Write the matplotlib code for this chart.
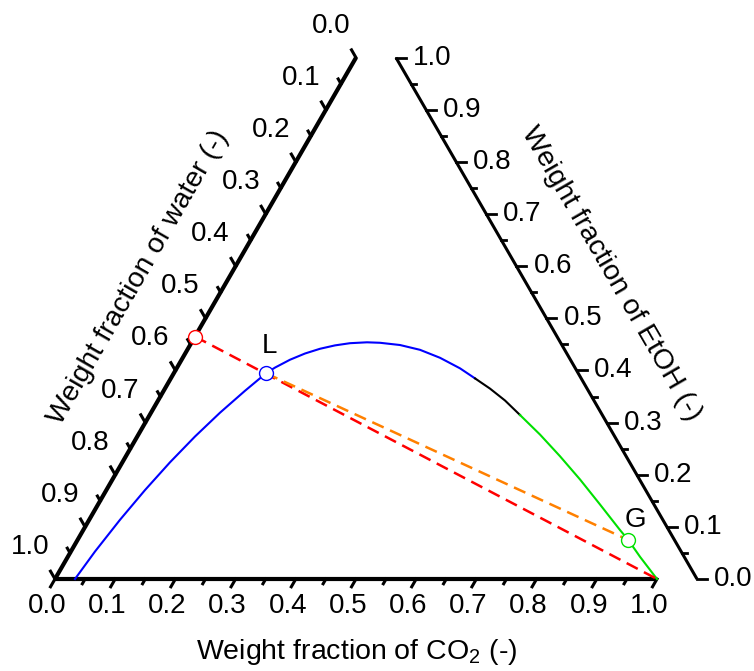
import numpy as np
import matplotlib
matplotlib.use("Agg")
import matplotlib.pyplot as plt

plt.rcParams['font.family'] = ['Liberation Sans', 'DejaVu Sans']

# ----- data (weight fractions) -----
# binodal curve, blue part (water-rich side)
blue_co2 = [0.0332, 0.0401, 0.0512, 0.0642, 0.0791, 0.0959, 0.1146, 0.1351,
            0.1532, 0.1627, 0.1801, 0.1990, 0.2194, 0.2411, 0.2639, 0.2913,
            0.3133, 0.3487, 0.3865, 0.4274, 0.4707, 0.5053]
blue_etoh = [0.0000, 0.0528, 0.1136, 0.1705, 0.2238, 0.2733, 0.3190, 0.3610,
             0.3946, 0.4055, 0.4206, 0.4325, 0.4416, 0.4481, 0.4523, 0.4540,
             0.4531, 0.4488, 0.4396, 0.4243, 0.4041, 0.3848]
# black part (near plait point)
black_co2 = [0.5053, 0.5400, 0.5763, 0.6151]
black_etoh = [0.3848, 0.3652, 0.3424, 0.3146]
# green part (CO2-rich side)
green_co2 = [0.6151, 0.6672, 0.7211, 0.7767, 0.8339, 0.8915, 0.9149, 0.9505, 1.0000]
green_etoh = [0.3146, 0.2770, 0.2355, 0.1909, 0.1429, 0.0940, 0.0748, 0.0426, 0.0000]

# feed line (red) and tie line L-G (orange)
feed_co2 = [0.0, 1.0]
feed_etoh = [0.465, 0.0]
tie_co2 = [0.1532, 0.9149]
tie_etoh = [0.3946, 0.0748]

major_ticks = [0.0, 0.1, 0.2, 0.3, 0.4, 0.5, 0.6, 0.7, 0.8, 0.9, 1.0]
minor_ticks = [0.05, 0.15, 0.25, 0.35, 0.45, 0.55, 0.65, 0.75, 0.85, 0.95]
tick_labels = ['0.0', '0.1', '0.2', '0.3', '0.4', '0.5', '0.6', '0.7', '0.8', '0.9', '1.0']

S3 = np.sqrt(3) / 2
PX = 1 / 602.0      # one pixel in data units
OFF = 40 * PX       # shift of the EtOH axis


def tern(co2, etoh):
    co2 = np.asarray(co2, dtype=float)
    etoh = np.asarray(etoh, dtype=float)
    return co2 + etoh / 2, etoh * S3


fig = plt.figure(figsize=(7.54, 6.71), dpi=100)
ax = fig.add_axes([0, 0, 1, 1])
ax.set_xlim(-55 * PX, 699 * PX)
ax.set_ylim(-92 * PX, 579 * PX)
ax.axis('off')

# -----axes lines-----
ax.plot([0, 1], [0, 0], color='k', lw=3.0, solid_capstyle='butt', zorder=3)
ax.plot([0, 0.5], [0, S3], color='k', lw=3.0, solid_capstyle='butt', zorder=3)
ax.plot([1 + OFF, 0.5 + OFF], [0, S3], color='k', lw=2.2, solid_capstyle='butt', zorder=3)

fs = 20
for ticks, big in [(major_ticks, True), (minor_ticks, False)]:
    for t in ticks:
        ln = (9 if big else 5.5) * PX
        # bottom (CO2)
        ax.plot([t, t - 0.5 * ln], [0, -S3 * ln], color='k', lw=2.2, zorder=3)
        # left (water)
        px_, py_ = (1 - t) / 2, (1 - t) * S3
        ax.plot([px_, px_ - 0.5 * ln], [py_, py_ + S3 * ln], color='k', lw=2.2, zorder=3)
        # right (EtOH)
        rx, ry = 1 - t / 2 + OFF, t * S3
        ln_r = (10 if big else 5) * PX
        ax.plot([rx, rx + ln_r], [ry, ry], color='k', lw=2.0, zorder=3)

for t, lab in zip(major_ticks, tick_labels):
    ax.text(t - 8 * PX, -27 * PX, lab, fontsize=fs, ha='center', va='center')
    px_, py_ = (1 - t) / 2, (1 - t) * S3
    ax.text(px_ - 25 * PX, py_ + 32 * PX, lab, fontsize=fs, ha='center', va='center')
    rx, ry = 1 - t / 2 + OFF, t * S3
    ax.text(rx + 17 * PX, ry, lab, fontsize=fs, ha='left', va='center')

# axis titles
ax.text(302 * PX, -73 * PX, r'Weight fraction of CO$_\mathregular{2}$ (-)',
        fontsize=20.5, ha='center', va='center')
ax.text(83 * PX, 302 * PX, 'Weight fraction of water (-)',
        fontsize=20.5, ha='center', va='center', rotation=60, rotation_mode='anchor')
ax.text(556 * PX, 305 * PX, 'Weight fraction of EtOH (-)',
        fontsize=20.5, ha='center', va='center', rotation=-60, rotation_mode='anchor')

# -----curves-----
ax.plot(*tern(blue_co2, blue_etoh), color='#0000ff', lw=1.5, zorder=4)
ax.plot(*tern(black_co2, black_etoh), color='k', lw=1.5, zorder=4)
ax.plot(*tern(green_co2, green_etoh), color='#00e000', lw=1.5, zorder=4)

ax.plot(*tern(feed_co2, feed_etoh), color='#ff0000', lw=1.8, dashes=(5, 2.8), zorder=4)
ax.plot(*tern(tie_co2, tie_etoh), color='#ff8000', lw=1.8, dashes=(5, 2.8), zorder=4)

# points
ax.plot(*tern(feed_co2[:1], feed_etoh[:1]), 'o', ms=10, mfc='white', mec='#ff0000', mew=1.0, zorder=5)
ax.plot(*tern(tie_co2[:1], tie_etoh[:1]), 'o', ms=10, mfc='white', mec='#0000ff', mew=1.0, zorder=5)
ax.plot(*tern(tie_co2[1:], tie_etoh[1:]), 'o', ms=10, mfc='white', mec='#00e000', mew=1.0, zorder=5)

lx, ly = tern(tie_co2[0], tie_etoh[0])
ax.text(lx + 3 * PX, ly + 27 * PX, 'L', fontsize=fs, ha='center', va='center')
gx, gy = tern(tie_co2[1], tie_etoh[1])
ax.text(gx + 7 * PX, gy + 20 * PX, 'G', fontsize=fs, ha='center', va='center')

fig.savefig('out.png', dpi=100)
